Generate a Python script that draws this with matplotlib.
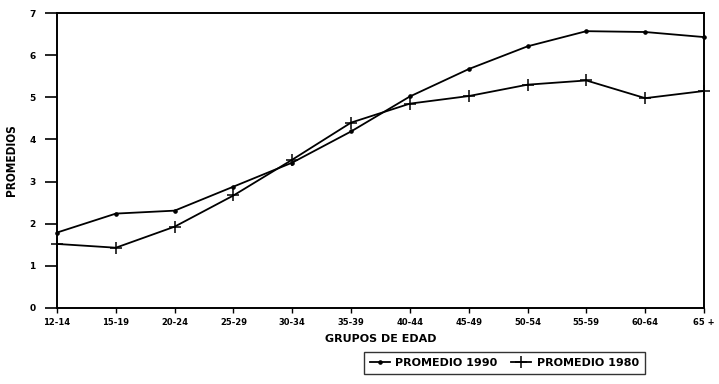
import matplotlib
matplotlib.use('Agg')
import matplotlib.pyplot as plt

# Age groups on the x axis
grupos = ['12-14', '15-19', '20-24', '25-29', '30-34', '35-39',
          '40-44', '45-49', '50-54', '55-59', '60-64', '65 +']
# Averages
promedio_1990 = [1.79, 2.24, 2.31, 2.88, 3.45, 4.19,
                 5.02, 5.67, 6.21, 6.57, 6.55, 6.43]
promedio_1980 = [1.52, 1.43, 1.93, 2.67, 3.52, 4.40,
                 4.85, 5.03, 5.30, 5.40, 4.98, 5.15]
y_ticks = [0, 1, 2, 3, 4, 5, 6, 7]

fig = plt.figure(figsize=(7.19, 3.84), dpi=100)
ax = fig.add_axes([0.0793, 0.198, 0.8998, 0.768])

x = range(len(grupos))
l1, = ax.plot(x, promedio_1990, color='black', lw=1.3, marker='o',
              markersize=2.3, label='PROMEDIO 1990', clip_on=False)
l2, = ax.plot(x, promedio_1980, color='black', lw=1.3, marker='+',
              markersize=8, markeredgewidth=1.1, label='PROMEDIO 1980',
              clip_on=False)

ax.set_xlim(0, len(grupos) - 1)
ax.set_ylim(0, 7)
ax.set_xticks(list(x))
ax.set_xticklabels(grupos, fontsize=6, fontweight='bold')
ax.set_yticks(y_ticks)
ax.set_yticklabels([str(v) for v in y_ticks], fontsize=6.5, fontweight='bold')
ax.tick_params(axis='y', direction='out', length=8.5, width=1.2, pad=7)
ax.tick_params(axis='x', direction='out', length=3.5, width=1.0, pad=4)
for side in ax.spines.values():
    side.set_linewidth(1.4)

ax.set_xlabel('GRUPOS DE EDAD', fontsize=8, fontweight='bold', labelpad=5)
ax.set_ylabel('PROMEDIOS', fontsize=8.5, fontweight='bold',
              fontstretch='condensed', labelpad=8)

leg = fig.legend(handles=[l1, l2], loc='upper left',
                 bbox_to_anchor=(0.506, 0.083), ncol=2, frameon=True,
                 fancybox=False, edgecolor='black',
                 prop={'weight': 'bold', 'size': 8}, handlelength=1.8,
                 handletextpad=0.5, columnspacing=1.2, borderpad=0.55,
                 borderaxespad=0)
leg.get_frame().set_linewidth(1.0)

fig.savefig('out.png', dpi=100)
